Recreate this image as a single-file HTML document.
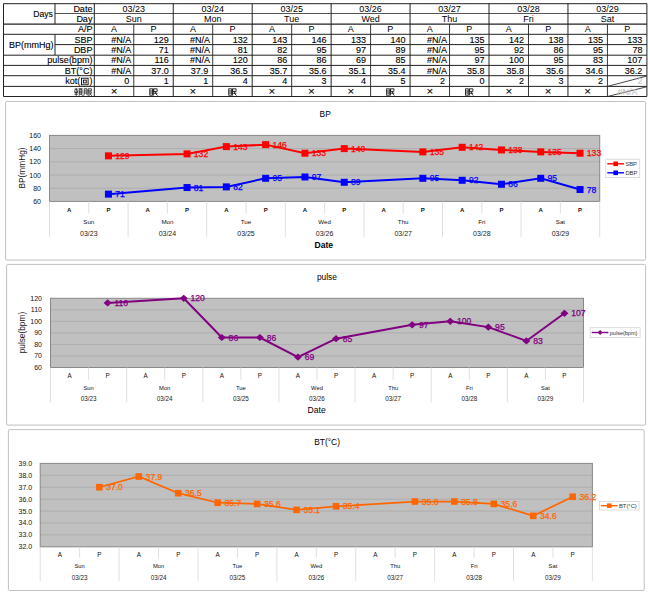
<!DOCTYPE html>
<html><head><meta charset="utf-8"><style>
html,body{margin:0;padding:0;background:#fff;width:650px;height:594px;overflow:hidden}
svg{display:block}
text{font-family:"Liberation Sans", sans-serif}
</style></head><body>
<svg width="650" height="594" viewBox="0 0 650 594">
<rect width="650" height="594" fill="#fff"/>

<line x1="3.50" y1="3.70" x2="646.90" y2="3.70" stroke="#222" stroke-width="1" />
<line x1="55.00" y1="13.50" x2="646.90" y2="13.50" stroke="#555" stroke-width="1.2" />
<line x1="3.50" y1="24.20" x2="646.90" y2="24.20" stroke="#222" stroke-width="1.2" />
<line x1="3.50" y1="34.30" x2="646.90" y2="34.30" stroke="#222" stroke-width="1" />
<line x1="55.00" y1="44.60" x2="94.30" y2="44.60" stroke="#222" stroke-width="1" />
<line x1="94.30" y1="44.60" x2="646.90" y2="44.60" stroke="#222" stroke-width="1" />
<line x1="3.50" y1="55.20" x2="646.90" y2="55.20" stroke="#222" stroke-width="1" />
<line x1="3.50" y1="65.40" x2="646.90" y2="65.40" stroke="#222" stroke-width="1" />
<line x1="3.50" y1="75.70" x2="646.90" y2="75.70" stroke="#222" stroke-width="1" />
<line x1="3.50" y1="86.40" x2="646.90" y2="86.40" stroke="#222" stroke-width="1" />
<line x1="3.50" y1="96.50" x2="646.90" y2="96.50" stroke="#222" stroke-width="1" />
<line x1="3.50" y1="3.50" x2="3.50" y2="96.40" stroke="#222" stroke-width="1" />
<line x1="55.00" y1="3.50" x2="55.00" y2="24.20" stroke="#222" stroke-width="1" />
<line x1="55.00" y1="34.30" x2="55.00" y2="55.00" stroke="#222" stroke-width="1" />
<line x1="94.30" y1="3.50" x2="94.30" y2="96.40" stroke="#222" stroke-width="1" />
<line x1="133.77" y1="24.20" x2="133.77" y2="96.40" stroke="#222" stroke-width="0.9" />
<line x1="173.24" y1="3.50" x2="173.24" y2="96.40" stroke="#222" stroke-width="1" />
<line x1="212.71" y1="24.20" x2="212.71" y2="96.40" stroke="#222" stroke-width="0.9" />
<line x1="252.19" y1="3.50" x2="252.19" y2="96.40" stroke="#222" stroke-width="1" />
<line x1="291.66" y1="24.20" x2="291.66" y2="96.40" stroke="#222" stroke-width="0.9" />
<line x1="331.13" y1="3.50" x2="331.13" y2="96.40" stroke="#222" stroke-width="1" />
<line x1="370.60" y1="24.20" x2="370.60" y2="96.40" stroke="#222" stroke-width="0.9" />
<line x1="410.07" y1="3.50" x2="410.07" y2="96.40" stroke="#222" stroke-width="1" />
<line x1="449.54" y1="24.20" x2="449.54" y2="96.40" stroke="#222" stroke-width="0.9" />
<line x1="489.01" y1="3.50" x2="489.01" y2="96.40" stroke="#222" stroke-width="1" />
<line x1="528.49" y1="24.20" x2="528.49" y2="96.40" stroke="#222" stroke-width="0.9" />
<line x1="567.96" y1="3.50" x2="567.96" y2="96.40" stroke="#222" stroke-width="1" />
<line x1="607.43" y1="24.20" x2="607.43" y2="96.40" stroke="#222" stroke-width="0.9" />
<line x1="646.90" y1="3.50" x2="646.90" y2="96.40" stroke="#222" stroke-width="1" />
<text x="52.80" y="17.30" font-size="8.6" text-anchor="end" fill="#000" font-weight="normal" stroke="#000" stroke-width="0.12">Days</text>
<text x="92.40" y="11.50" font-size="9" text-anchor="end" fill="#000" font-weight="normal" stroke="#000" stroke-width="0.12">Date</text>
<text x="92.40" y="22.20" font-size="9" text-anchor="end" fill="#000" font-weight="normal" stroke="#000" stroke-width="0.12">Day</text>
<text x="92.40" y="32.30" font-size="9" text-anchor="end" fill="#000" font-weight="normal" stroke="#000" stroke-width="0.12">A/P</text>
<text x="53.50" y="48.20" font-size="9" text-anchor="end" fill="#000" font-weight="normal" stroke="#000" stroke-width="0.12">BP(mmHg)</text>
<text x="92.40" y="42.60" font-size="9" text-anchor="end" fill="#000" font-weight="normal" stroke="#000" stroke-width="0.12">SBP</text>
<text x="92.40" y="53.20" font-size="9" text-anchor="end" fill="#000" font-weight="normal" stroke="#000" stroke-width="0.12">DBP</text>
<text x="92.40" y="63.40" font-size="9" text-anchor="end" fill="#000" font-weight="normal" stroke="#000" stroke-width="0.12">pulse(bpm)</text>
<text x="92.40" y="73.70" font-size="9" text-anchor="end" fill="#000" font-weight="normal" stroke="#000" stroke-width="0.12">BT(°C)</text>
<text x="80.20" y="84.40" font-size="9" text-anchor="end" fill="#000" font-weight="normal" stroke="#000" stroke-width="0.12">kot(</text>
<text x="92.60" y="84.40" font-size="9" text-anchor="end" fill="#000" font-weight="normal" stroke="#000" stroke-width="0.12">)</text>
<text x="133.77" y="11.50" font-size="9" text-anchor="middle" fill="#000" font-weight="normal" >03/23</text>
<text x="133.77" y="22.20" font-size="9" text-anchor="middle" fill="#000" font-weight="normal" >Sun</text>
<text x="114.04" y="32.30" font-size="9" text-anchor="middle" fill="#000" font-weight="normal" >A</text>
<text x="153.51" y="32.30" font-size="9" text-anchor="middle" fill="#000" font-weight="normal" >P</text>
<text x="212.71" y="11.50" font-size="9" text-anchor="middle" fill="#000" font-weight="normal" >03/24</text>
<text x="212.71" y="22.20" font-size="9" text-anchor="middle" fill="#000" font-weight="normal" >Mon</text>
<text x="192.98" y="32.30" font-size="9" text-anchor="middle" fill="#000" font-weight="normal" >A</text>
<text x="232.45" y="32.30" font-size="9" text-anchor="middle" fill="#000" font-weight="normal" >P</text>
<text x="291.66" y="11.50" font-size="9" text-anchor="middle" fill="#000" font-weight="normal" >03/25</text>
<text x="291.66" y="22.20" font-size="9" text-anchor="middle" fill="#000" font-weight="normal" >Tue</text>
<text x="271.92" y="32.30" font-size="9" text-anchor="middle" fill="#000" font-weight="normal" >A</text>
<text x="311.39" y="32.30" font-size="9" text-anchor="middle" fill="#000" font-weight="normal" >P</text>
<text x="370.60" y="11.50" font-size="9" text-anchor="middle" fill="#000" font-weight="normal" >03/26</text>
<text x="370.60" y="22.20" font-size="9" text-anchor="middle" fill="#000" font-weight="normal" >Wed</text>
<text x="350.86" y="32.30" font-size="9" text-anchor="middle" fill="#000" font-weight="normal" >A</text>
<text x="390.34" y="32.30" font-size="9" text-anchor="middle" fill="#000" font-weight="normal" >P</text>
<text x="449.54" y="11.50" font-size="9" text-anchor="middle" fill="#000" font-weight="normal" >03/27</text>
<text x="449.54" y="22.20" font-size="9" text-anchor="middle" fill="#000" font-weight="normal" >Thu</text>
<text x="429.81" y="32.30" font-size="9" text-anchor="middle" fill="#000" font-weight="normal" >A</text>
<text x="469.28" y="32.30" font-size="9" text-anchor="middle" fill="#000" font-weight="normal" >P</text>
<text x="528.49" y="11.50" font-size="9" text-anchor="middle" fill="#000" font-weight="normal" >03/28</text>
<text x="528.49" y="22.20" font-size="9" text-anchor="middle" fill="#000" font-weight="normal" >Fri</text>
<text x="508.75" y="32.30" font-size="9" text-anchor="middle" fill="#000" font-weight="normal" >A</text>
<text x="548.22" y="32.30" font-size="9" text-anchor="middle" fill="#000" font-weight="normal" >P</text>
<text x="607.43" y="11.50" font-size="9" text-anchor="middle" fill="#000" font-weight="normal" >03/29</text>
<text x="607.43" y="22.20" font-size="9" text-anchor="middle" fill="#000" font-weight="normal" >Sat</text>
<text x="587.69" y="32.30" font-size="9" text-anchor="middle" fill="#000" font-weight="normal" >A</text>
<text x="627.16" y="32.30" font-size="9" text-anchor="middle" fill="#000" font-weight="normal" >P</text>
<text x="131.17" y="42.60" font-size="9" text-anchor="end" fill="#000" font-weight="normal" stroke="#000" stroke-width="0.12">#N/A</text>
<text x="131.17" y="53.20" font-size="9" text-anchor="end" fill="#000" font-weight="normal" stroke="#000" stroke-width="0.12">#N/A</text>
<text x="131.17" y="63.40" font-size="9" text-anchor="end" fill="#000" font-weight="normal" stroke="#000" stroke-width="0.12">#N/A</text>
<text x="131.17" y="73.70" font-size="9" text-anchor="end" fill="#000" font-weight="normal" stroke="#000" stroke-width="0.12">#N/A</text>
<text x="129.27" y="84.40" font-size="9" text-anchor="end" fill="#000" font-weight="normal" stroke="#000" stroke-width="0.12">0</text>
<text x="114.04" y="95.10" font-size="11.5" text-anchor="middle" fill="#000" font-weight="normal" stroke="#000" stroke-width="0.12">×</text>
<text x="168.74" y="42.60" font-size="9" text-anchor="end" fill="#000" font-weight="normal" stroke="#000" stroke-width="0.12">129</text>
<text x="168.74" y="53.20" font-size="9" text-anchor="end" fill="#000" font-weight="normal" stroke="#000" stroke-width="0.12">71</text>
<text x="168.74" y="63.40" font-size="9" text-anchor="end" fill="#000" font-weight="normal" stroke="#000" stroke-width="0.12">116</text>
<text x="168.74" y="73.70" font-size="9" text-anchor="end" fill="#000" font-weight="normal" stroke="#000" stroke-width="0.12">37.0</text>
<text x="168.74" y="84.40" font-size="9" text-anchor="end" fill="#000" font-weight="normal" stroke="#000" stroke-width="0.12">1</text>
<g transform="translate(149.31,88.00)" fill="none" stroke="#111" stroke-width="0.85">
   <rect x="0.5" y="0.8" width="2.6" height="6.4"/>
   <line x1="0.5" y1="3" x2="3.1" y2="3"/><line x1="0.5" y1="5" x2="3.1" y2="5"/>
   <path d="M4.3,0.8 H7.8 V3.4 H4.3 Z M4.3,0.8 V7.6 M4.3,5.2 H8.2 M6,3.4 Q6.2,6.5 8.4,7.6"/>
 </g>
<text x="210.11" y="42.60" font-size="9" text-anchor="end" fill="#000" font-weight="normal" stroke="#000" stroke-width="0.12">#N/A</text>
<text x="210.11" y="53.20" font-size="9" text-anchor="end" fill="#000" font-weight="normal" stroke="#000" stroke-width="0.12">#N/A</text>
<text x="210.11" y="63.40" font-size="9" text-anchor="end" fill="#000" font-weight="normal" stroke="#000" stroke-width="0.12">#N/A</text>
<text x="208.21" y="73.70" font-size="9" text-anchor="end" fill="#000" font-weight="normal" stroke="#000" stroke-width="0.12">37.9</text>
<text x="208.21" y="84.40" font-size="9" text-anchor="end" fill="#000" font-weight="normal" stroke="#000" stroke-width="0.12">1</text>
<text x="192.98" y="95.10" font-size="11.5" text-anchor="middle" fill="#000" font-weight="normal" stroke="#000" stroke-width="0.12">×</text>
<text x="247.69" y="42.60" font-size="9" text-anchor="end" fill="#000" font-weight="normal" stroke="#000" stroke-width="0.12">132</text>
<text x="247.69" y="53.20" font-size="9" text-anchor="end" fill="#000" font-weight="normal" stroke="#000" stroke-width="0.12">81</text>
<text x="247.69" y="63.40" font-size="9" text-anchor="end" fill="#000" font-weight="normal" stroke="#000" stroke-width="0.12">120</text>
<text x="247.69" y="73.70" font-size="9" text-anchor="end" fill="#000" font-weight="normal" stroke="#000" stroke-width="0.12">36.5</text>
<text x="247.69" y="84.40" font-size="9" text-anchor="end" fill="#000" font-weight="normal" stroke="#000" stroke-width="0.12">4</text>
<g transform="translate(228.25,88.00)" fill="none" stroke="#111" stroke-width="0.85">
   <rect x="0.5" y="0.8" width="2.6" height="6.4"/>
   <line x1="0.5" y1="3" x2="3.1" y2="3"/><line x1="0.5" y1="5" x2="3.1" y2="5"/>
   <path d="M4.3,0.8 H7.8 V3.4 H4.3 Z M4.3,0.8 V7.6 M4.3,5.2 H8.2 M6,3.4 Q6.2,6.5 8.4,7.6"/>
 </g>
<text x="287.16" y="42.60" font-size="9" text-anchor="end" fill="#000" font-weight="normal" stroke="#000" stroke-width="0.12">143</text>
<text x="287.16" y="53.20" font-size="9" text-anchor="end" fill="#000" font-weight="normal" stroke="#000" stroke-width="0.12">82</text>
<text x="287.16" y="63.40" font-size="9" text-anchor="end" fill="#000" font-weight="normal" stroke="#000" stroke-width="0.12">86</text>
<text x="287.16" y="73.70" font-size="9" text-anchor="end" fill="#000" font-weight="normal" stroke="#000" stroke-width="0.12">35.7</text>
<text x="287.16" y="84.40" font-size="9" text-anchor="end" fill="#000" font-weight="normal" stroke="#000" stroke-width="0.12">4</text>
<text x="271.92" y="95.10" font-size="11.5" text-anchor="middle" fill="#000" font-weight="normal" stroke="#000" stroke-width="0.12">×</text>
<text x="326.63" y="42.60" font-size="9" text-anchor="end" fill="#000" font-weight="normal" stroke="#000" stroke-width="0.12">146</text>
<text x="326.63" y="53.20" font-size="9" text-anchor="end" fill="#000" font-weight="normal" stroke="#000" stroke-width="0.12">95</text>
<text x="326.63" y="63.40" font-size="9" text-anchor="end" fill="#000" font-weight="normal" stroke="#000" stroke-width="0.12">86</text>
<text x="326.63" y="73.70" font-size="9" text-anchor="end" fill="#000" font-weight="normal" stroke="#000" stroke-width="0.12">35.6</text>
<text x="326.63" y="84.40" font-size="9" text-anchor="end" fill="#000" font-weight="normal" stroke="#000" stroke-width="0.12">3</text>
<text x="311.39" y="95.10" font-size="11.5" text-anchor="middle" fill="#000" font-weight="normal" stroke="#000" stroke-width="0.12">×</text>
<text x="366.10" y="42.60" font-size="9" text-anchor="end" fill="#000" font-weight="normal" stroke="#000" stroke-width="0.12">133</text>
<text x="366.10" y="53.20" font-size="9" text-anchor="end" fill="#000" font-weight="normal" stroke="#000" stroke-width="0.12">97</text>
<text x="366.10" y="63.40" font-size="9" text-anchor="end" fill="#000" font-weight="normal" stroke="#000" stroke-width="0.12">69</text>
<text x="366.10" y="73.70" font-size="9" text-anchor="end" fill="#000" font-weight="normal" stroke="#000" stroke-width="0.12">35.1</text>
<text x="366.10" y="84.40" font-size="9" text-anchor="end" fill="#000" font-weight="normal" stroke="#000" stroke-width="0.12">4</text>
<text x="350.86" y="95.10" font-size="11.5" text-anchor="middle" fill="#000" font-weight="normal" stroke="#000" stroke-width="0.12">×</text>
<text x="405.57" y="42.60" font-size="9" text-anchor="end" fill="#000" font-weight="normal" stroke="#000" stroke-width="0.12">140</text>
<text x="405.57" y="53.20" font-size="9" text-anchor="end" fill="#000" font-weight="normal" stroke="#000" stroke-width="0.12">89</text>
<text x="405.57" y="63.40" font-size="9" text-anchor="end" fill="#000" font-weight="normal" stroke="#000" stroke-width="0.12">85</text>
<text x="405.57" y="73.70" font-size="9" text-anchor="end" fill="#000" font-weight="normal" stroke="#000" stroke-width="0.12">35.4</text>
<text x="405.57" y="84.40" font-size="9" text-anchor="end" fill="#000" font-weight="normal" stroke="#000" stroke-width="0.12">5</text>
<g transform="translate(386.14,88.00)" fill="none" stroke="#111" stroke-width="0.85">
   <rect x="0.5" y="0.8" width="2.6" height="6.4"/>
   <line x1="0.5" y1="3" x2="3.1" y2="3"/><line x1="0.5" y1="5" x2="3.1" y2="5"/>
   <path d="M4.3,0.8 H7.8 V3.4 H4.3 Z M4.3,0.8 V7.6 M4.3,5.2 H8.2 M6,3.4 Q6.2,6.5 8.4,7.6"/>
 </g>
<text x="446.94" y="42.60" font-size="9" text-anchor="end" fill="#000" font-weight="normal" stroke="#000" stroke-width="0.12">#N/A</text>
<text x="446.94" y="53.20" font-size="9" text-anchor="end" fill="#000" font-weight="normal" stroke="#000" stroke-width="0.12">#N/A</text>
<text x="446.94" y="63.40" font-size="9" text-anchor="end" fill="#000" font-weight="normal" stroke="#000" stroke-width="0.12">#N/A</text>
<text x="446.94" y="73.70" font-size="9" text-anchor="end" fill="#000" font-weight="normal" stroke="#000" stroke-width="0.12">#N/A</text>
<text x="445.04" y="84.40" font-size="9" text-anchor="end" fill="#000" font-weight="normal" stroke="#000" stroke-width="0.12">2</text>
<text x="429.81" y="95.10" font-size="11.5" text-anchor="middle" fill="#000" font-weight="normal" stroke="#000" stroke-width="0.12">×</text>
<text x="484.51" y="42.60" font-size="9" text-anchor="end" fill="#000" font-weight="normal" stroke="#000" stroke-width="0.12">135</text>
<text x="484.51" y="53.20" font-size="9" text-anchor="end" fill="#000" font-weight="normal" stroke="#000" stroke-width="0.12">95</text>
<text x="484.51" y="63.40" font-size="9" text-anchor="end" fill="#000" font-weight="normal" stroke="#000" stroke-width="0.12">97</text>
<text x="484.51" y="73.70" font-size="9" text-anchor="end" fill="#000" font-weight="normal" stroke="#000" stroke-width="0.12">35.8</text>
<text x="484.51" y="84.40" font-size="9" text-anchor="end" fill="#000" font-weight="normal" stroke="#000" stroke-width="0.12">0</text>
<g transform="translate(465.08,88.00)" fill="none" stroke="#111" stroke-width="0.85">
   <rect x="0.5" y="0.8" width="2.6" height="6.4"/>
   <line x1="0.5" y1="3" x2="3.1" y2="3"/><line x1="0.5" y1="5" x2="3.1" y2="5"/>
   <path d="M4.3,0.8 H7.8 V3.4 H4.3 Z M4.3,0.8 V7.6 M4.3,5.2 H8.2 M6,3.4 Q6.2,6.5 8.4,7.6"/>
 </g>
<text x="523.99" y="42.60" font-size="9" text-anchor="end" fill="#000" font-weight="normal" stroke="#000" stroke-width="0.12">142</text>
<text x="523.99" y="53.20" font-size="9" text-anchor="end" fill="#000" font-weight="normal" stroke="#000" stroke-width="0.12">92</text>
<text x="523.99" y="63.40" font-size="9" text-anchor="end" fill="#000" font-weight="normal" stroke="#000" stroke-width="0.12">100</text>
<text x="523.99" y="73.70" font-size="9" text-anchor="end" fill="#000" font-weight="normal" stroke="#000" stroke-width="0.12">35.8</text>
<text x="523.99" y="84.40" font-size="9" text-anchor="end" fill="#000" font-weight="normal" stroke="#000" stroke-width="0.12">2</text>
<text x="508.75" y="95.10" font-size="11.5" text-anchor="middle" fill="#000" font-weight="normal" stroke="#000" stroke-width="0.12">×</text>
<text x="563.46" y="42.60" font-size="9" text-anchor="end" fill="#000" font-weight="normal" stroke="#000" stroke-width="0.12">138</text>
<text x="563.46" y="53.20" font-size="9" text-anchor="end" fill="#000" font-weight="normal" stroke="#000" stroke-width="0.12">86</text>
<text x="563.46" y="63.40" font-size="9" text-anchor="end" fill="#000" font-weight="normal" stroke="#000" stroke-width="0.12">95</text>
<text x="563.46" y="73.70" font-size="9" text-anchor="end" fill="#000" font-weight="normal" stroke="#000" stroke-width="0.12">35.6</text>
<text x="563.46" y="84.40" font-size="9" text-anchor="end" fill="#000" font-weight="normal" stroke="#000" stroke-width="0.12">3</text>
<text x="548.22" y="95.10" font-size="11.5" text-anchor="middle" fill="#000" font-weight="normal" stroke="#000" stroke-width="0.12">×</text>
<text x="602.93" y="42.60" font-size="9" text-anchor="end" fill="#000" font-weight="normal" stroke="#000" stroke-width="0.12">135</text>
<text x="602.93" y="53.20" font-size="9" text-anchor="end" fill="#000" font-weight="normal" stroke="#000" stroke-width="0.12">95</text>
<text x="602.93" y="63.40" font-size="9" text-anchor="end" fill="#000" font-weight="normal" stroke="#000" stroke-width="0.12">83</text>
<text x="602.93" y="73.70" font-size="9" text-anchor="end" fill="#000" font-weight="normal" stroke="#000" stroke-width="0.12">34.6</text>
<text x="602.93" y="84.40" font-size="9" text-anchor="end" fill="#000" font-weight="normal" stroke="#000" stroke-width="0.12">2</text>
<text x="587.69" y="95.10" font-size="11.5" text-anchor="middle" fill="#000" font-weight="normal" stroke="#000" stroke-width="0.12">×</text>
<text x="642.40" y="42.60" font-size="9" text-anchor="end" fill="#000" font-weight="normal" stroke="#000" stroke-width="0.12">133</text>
<text x="642.40" y="53.20" font-size="9" text-anchor="end" fill="#000" font-weight="normal" stroke="#000" stroke-width="0.12">78</text>
<text x="642.40" y="63.40" font-size="9" text-anchor="end" fill="#000" font-weight="normal" stroke="#000" stroke-width="0.12">107</text>
<text x="642.40" y="73.70" font-size="9" text-anchor="end" fill="#000" font-weight="normal" stroke="#000" stroke-width="0.12">36.2</text>
<g transform="translate(81.0,77.70)" fill="none" stroke="#000" stroke-width="0.9">
   <rect x="0.5" y="0.5" width="6.6" height="6.6"/>
   <rect x="2.4" y="2.4" width="2.8" height="2.8"/>
 </g>
<g transform="translate(74.2,88.00)" fill="none" stroke="#111" stroke-width="0.8">
   <path d="M0.3,1.2 H3.6 M2,0.2 V7.8 M0.6,2.4 V4.6 H3.4 V2.4 M0.3,6.2 H3.6"/>
   <path d="M4.4,0.7 H8.4 M5,1.7 H7.8 V6.2 H5 Z M5,3.2 H7.8 M5,4.7 H7.8 M5.6,6.4 L4.6,7.8 M7.2,6.4 L8.4,7.8"/>
 </g>
<g transform="translate(83.6,88.00)" fill="none" stroke="#111" stroke-width="0.8">
   <path d="M0.6,0.8 H3.4 V7.2 M0.6,0.8 V5.5 Q0.6,7 0.1,7.8 M0.6,3 H3.4 M0.6,5 H3.4"/>
   <path d="M4.6,0.8 H7.8 V2.8 H4.6 M4.6,0.8 V7.8 M4.8,4 H8 Q7.4,6.2 5.2,7.6 M5.6,4.6 Q6.8,6.8 8.4,7.6"/>
 </g>
<line x1="607.43" y1="86.40" x2="646.40" y2="76.20" stroke="#333" stroke-width="0.9" />
<line x1="607.43" y1="96.50" x2="646.40" y2="86.90" stroke="#333" stroke-width="0.9" />
<text x="642.40" y="84.40" font-size="9" text-anchor="end" fill="#c4c4c4" font-weight="normal" stroke="#c4c4c4" stroke-width="0.12">2</text>
<text x="637.50" y="94.50" font-size="9" text-anchor="end" fill="#c4c4c4" font-weight="normal" stroke="#c4c4c4" stroke-width="0.12">#N/A</text>
<rect x="5.60" y="101.50" width="640.00" height="158.60" fill="#fff" stroke="#c0c0c0" stroke-width="1" rx="1.2"/>
<text x="325.20" y="117.30" font-size="8.4" text-anchor="middle" fill="#000" font-weight="normal" >BP</text>
<rect x="49.50" y="135.40" width="550.20" height="66.00" fill="#c0c0c0"/>
<text x="41.00" y="203.90" font-size="7" text-anchor="end" fill="#111" font-weight="normal" >60</text>
<line x1="49.50" y1="188.20" x2="599.70" y2="188.20" stroke="#acacac" stroke-width="0.9" />
<text x="41.00" y="190.70" font-size="7" text-anchor="end" fill="#111" font-weight="normal" >80</text>
<line x1="49.50" y1="175.00" x2="599.70" y2="175.00" stroke="#acacac" stroke-width="0.9" />
<text x="41.00" y="177.50" font-size="7" text-anchor="end" fill="#111" font-weight="normal" >100</text>
<line x1="49.50" y1="161.80" x2="599.70" y2="161.80" stroke="#acacac" stroke-width="0.9" />
<text x="41.00" y="164.30" font-size="7" text-anchor="end" fill="#111" font-weight="normal" >120</text>
<line x1="49.50" y1="148.60" x2="599.70" y2="148.60" stroke="#acacac" stroke-width="0.9" />
<text x="41.00" y="151.10" font-size="7" text-anchor="end" fill="#111" font-weight="normal" >140</text>
<text x="41.00" y="137.90" font-size="7" text-anchor="end" fill="#111" font-weight="normal" >160</text>
<rect x="49.50" y="135.40" width="550.20" height="66.00" fill="none" stroke="#888" stroke-width="1"/>
<line x1="49.50" y1="201.40" x2="49.50" y2="237.00" stroke="#dcdcdc" stroke-width="0.9" />
<line x1="88.80" y1="201.40" x2="88.80" y2="213.50" stroke="#dcdcdc" stroke-width="0.9" />
<line x1="128.10" y1="201.40" x2="128.10" y2="237.00" stroke="#dcdcdc" stroke-width="0.9" />
<line x1="167.40" y1="201.40" x2="167.40" y2="213.50" stroke="#dcdcdc" stroke-width="0.9" />
<line x1="206.70" y1="201.40" x2="206.70" y2="237.00" stroke="#dcdcdc" stroke-width="0.9" />
<line x1="246.00" y1="201.40" x2="246.00" y2="213.50" stroke="#dcdcdc" stroke-width="0.9" />
<line x1="285.30" y1="201.40" x2="285.30" y2="237.00" stroke="#dcdcdc" stroke-width="0.9" />
<line x1="324.60" y1="201.40" x2="324.60" y2="213.50" stroke="#dcdcdc" stroke-width="0.9" />
<line x1="363.90" y1="201.40" x2="363.90" y2="237.00" stroke="#dcdcdc" stroke-width="0.9" />
<line x1="403.20" y1="201.40" x2="403.20" y2="213.50" stroke="#dcdcdc" stroke-width="0.9" />
<line x1="442.50" y1="201.40" x2="442.50" y2="237.00" stroke="#dcdcdc" stroke-width="0.9" />
<line x1="481.80" y1="201.40" x2="481.80" y2="213.50" stroke="#dcdcdc" stroke-width="0.9" />
<line x1="521.10" y1="201.40" x2="521.10" y2="237.00" stroke="#dcdcdc" stroke-width="0.9" />
<line x1="560.40" y1="201.40" x2="560.40" y2="213.50" stroke="#dcdcdc" stroke-width="0.9" />
<line x1="599.70" y1="201.40" x2="599.70" y2="237.00" stroke="#dcdcdc" stroke-width="0.9" />
<text x="69.15" y="212.30" font-size="6" text-anchor="middle" fill="#111" font-weight="bold" >A</text>
<text x="108.45" y="212.30" font-size="6" text-anchor="middle" fill="#111" font-weight="bold" >P</text>
<text x="147.75" y="212.30" font-size="6" text-anchor="middle" fill="#111" font-weight="bold" >A</text>
<text x="187.05" y="212.30" font-size="6" text-anchor="middle" fill="#111" font-weight="bold" >P</text>
<text x="226.35" y="212.30" font-size="6" text-anchor="middle" fill="#111" font-weight="bold" >A</text>
<text x="265.65" y="212.30" font-size="6" text-anchor="middle" fill="#111" font-weight="bold" >P</text>
<text x="304.95" y="212.30" font-size="6" text-anchor="middle" fill="#111" font-weight="bold" >A</text>
<text x="344.25" y="212.30" font-size="6" text-anchor="middle" fill="#111" font-weight="bold" >P</text>
<text x="383.55" y="212.30" font-size="6" text-anchor="middle" fill="#111" font-weight="bold" >A</text>
<text x="422.85" y="212.30" font-size="6" text-anchor="middle" fill="#111" font-weight="bold" >P</text>
<text x="462.15" y="212.30" font-size="6" text-anchor="middle" fill="#111" font-weight="bold" >A</text>
<text x="501.45" y="212.30" font-size="6" text-anchor="middle" fill="#111" font-weight="bold" >P</text>
<text x="540.75" y="212.30" font-size="6" text-anchor="middle" fill="#111" font-weight="bold" >A</text>
<text x="580.05" y="212.30" font-size="6" text-anchor="middle" fill="#111" font-weight="bold" >P</text>
<text x="88.80" y="224.20" font-size="6.2" text-anchor="middle" fill="#111" font-weight="normal" >Sun</text>
<text x="88.80" y="235.70" font-size="7" text-anchor="middle" fill="#222" font-weight="normal" >03/23</text>
<text x="167.40" y="224.20" font-size="6.2" text-anchor="middle" fill="#111" font-weight="normal" >Mon</text>
<text x="167.40" y="235.70" font-size="7" text-anchor="middle" fill="#222" font-weight="normal" >03/24</text>
<text x="246.00" y="224.20" font-size="6.2" text-anchor="middle" fill="#111" font-weight="normal" >Tue</text>
<text x="246.00" y="235.70" font-size="7" text-anchor="middle" fill="#222" font-weight="normal" >03/25</text>
<text x="324.60" y="224.20" font-size="6.2" text-anchor="middle" fill="#111" font-weight="normal" >Wed</text>
<text x="324.60" y="235.70" font-size="7" text-anchor="middle" fill="#222" font-weight="normal" >03/26</text>
<text x="403.20" y="224.20" font-size="6.2" text-anchor="middle" fill="#111" font-weight="normal" >Thu</text>
<text x="403.20" y="235.70" font-size="7" text-anchor="middle" fill="#222" font-weight="normal" >03/27</text>
<text x="481.80" y="224.20" font-size="6.2" text-anchor="middle" fill="#111" font-weight="normal" >Fri</text>
<text x="481.80" y="235.70" font-size="7" text-anchor="middle" fill="#222" font-weight="normal" >03/28</text>
<text x="560.40" y="224.20" font-size="6.2" text-anchor="middle" fill="#111" font-weight="normal" >Sat</text>
<text x="560.40" y="235.70" font-size="7" text-anchor="middle" fill="#222" font-weight="normal" >03/29</text>
<text x="323.80" y="247.80" font-size="8.6" text-anchor="middle" fill="#000" font-weight="bold" >Date</text>
<text transform="translate(24.60,168.00) rotate(-90)" font-size="8.3" text-anchor="middle" fill="#111">BP(mmHg)</text>
<polyline points="108.45,155.86 187.05,153.88 226.35,146.62 265.65,144.64 304.95,153.22 344.25,148.60 422.85,151.90 462.15,147.28 501.45,149.92 540.75,151.90 580.05,153.22" fill="none" stroke="#ff0000" stroke-width="2"/>
<rect x="104.95" y="152.36" width="7" height="7" fill="#ff0000"/>
<text x="115.25" y="158.96" font-size="8.6" text-anchor="start" fill="#ff0000" font-weight="normal" stroke="#ff0000" stroke-width="0.25">129</text>
<rect x="183.55" y="150.38" width="7" height="7" fill="#ff0000"/>
<text x="193.85" y="156.98" font-size="8.6" text-anchor="start" fill="#ff0000" font-weight="normal" stroke="#ff0000" stroke-width="0.25">132</text>
<rect x="222.85" y="143.12" width="7" height="7" fill="#ff0000"/>
<text x="233.15" y="149.72" font-size="8.6" text-anchor="start" fill="#ff0000" font-weight="normal" stroke="#ff0000" stroke-width="0.25">143</text>
<rect x="262.15" y="141.14" width="7" height="7" fill="#ff0000"/>
<text x="272.45" y="147.74" font-size="8.6" text-anchor="start" fill="#ff0000" font-weight="normal" stroke="#ff0000" stroke-width="0.25">146</text>
<rect x="301.45" y="149.72" width="7" height="7" fill="#ff0000"/>
<text x="311.75" y="156.32" font-size="8.6" text-anchor="start" fill="#ff0000" font-weight="normal" stroke="#ff0000" stroke-width="0.25">133</text>
<rect x="340.75" y="145.10" width="7" height="7" fill="#ff0000"/>
<text x="351.05" y="151.70" font-size="8.6" text-anchor="start" fill="#ff0000" font-weight="normal" stroke="#ff0000" stroke-width="0.25">140</text>
<rect x="419.35" y="148.40" width="7" height="7" fill="#ff0000"/>
<text x="429.65" y="155.00" font-size="8.6" text-anchor="start" fill="#ff0000" font-weight="normal" stroke="#ff0000" stroke-width="0.25">135</text>
<rect x="458.65" y="143.78" width="7" height="7" fill="#ff0000"/>
<text x="468.95" y="150.38" font-size="8.6" text-anchor="start" fill="#ff0000" font-weight="normal" stroke="#ff0000" stroke-width="0.25">142</text>
<rect x="497.95" y="146.42" width="7" height="7" fill="#ff0000"/>
<text x="508.25" y="153.02" font-size="8.6" text-anchor="start" fill="#ff0000" font-weight="normal" stroke="#ff0000" stroke-width="0.25">138</text>
<rect x="537.25" y="148.40" width="7" height="7" fill="#ff0000"/>
<text x="547.55" y="155.00" font-size="8.6" text-anchor="start" fill="#ff0000" font-weight="normal" stroke="#ff0000" stroke-width="0.25">135</text>
<rect x="576.55" y="149.72" width="7" height="7" fill="#ff0000"/>
<text x="586.85" y="156.32" font-size="8.6" text-anchor="start" fill="#ff0000" font-weight="normal" stroke="#ff0000" stroke-width="0.25">133</text>
<polyline points="108.45,194.14 187.05,187.54 226.35,186.88 265.65,178.30 304.95,176.98 344.25,182.26 422.85,178.30 462.15,180.28 501.45,184.24 540.75,178.30 580.05,189.52" fill="none" stroke="#0000ff" stroke-width="2"/>
<rect x="104.95" y="190.64" width="7" height="7" fill="#0000ff"/>
<text x="115.25" y="197.24" font-size="8.6" text-anchor="start" fill="#0000ff" font-weight="normal" stroke="#0000ff" stroke-width="0.25">71</text>
<rect x="183.55" y="184.04" width="7" height="7" fill="#0000ff"/>
<text x="193.85" y="190.64" font-size="8.6" text-anchor="start" fill="#0000ff" font-weight="normal" stroke="#0000ff" stroke-width="0.25">81</text>
<rect x="222.85" y="183.38" width="7" height="7" fill="#0000ff"/>
<text x="233.15" y="189.98" font-size="8.6" text-anchor="start" fill="#0000ff" font-weight="normal" stroke="#0000ff" stroke-width="0.25">82</text>
<rect x="262.15" y="174.80" width="7" height="7" fill="#0000ff"/>
<text x="272.45" y="181.40" font-size="8.6" text-anchor="start" fill="#0000ff" font-weight="normal" stroke="#0000ff" stroke-width="0.25">95</text>
<rect x="301.45" y="173.48" width="7" height="7" fill="#0000ff"/>
<text x="311.75" y="180.08" font-size="8.6" text-anchor="start" fill="#0000ff" font-weight="normal" stroke="#0000ff" stroke-width="0.25">97</text>
<rect x="340.75" y="178.76" width="7" height="7" fill="#0000ff"/>
<text x="351.05" y="185.36" font-size="8.6" text-anchor="start" fill="#0000ff" font-weight="normal" stroke="#0000ff" stroke-width="0.25">89</text>
<rect x="419.35" y="174.80" width="7" height="7" fill="#0000ff"/>
<text x="429.65" y="181.40" font-size="8.6" text-anchor="start" fill="#0000ff" font-weight="normal" stroke="#0000ff" stroke-width="0.25">95</text>
<rect x="458.65" y="176.78" width="7" height="7" fill="#0000ff"/>
<text x="468.95" y="183.38" font-size="8.6" text-anchor="start" fill="#0000ff" font-weight="normal" stroke="#0000ff" stroke-width="0.25">92</text>
<rect x="497.95" y="180.74" width="7" height="7" fill="#0000ff"/>
<text x="508.25" y="187.34" font-size="8.6" text-anchor="start" fill="#0000ff" font-weight="normal" stroke="#0000ff" stroke-width="0.25">86</text>
<rect x="537.25" y="174.80" width="7" height="7" fill="#0000ff"/>
<text x="547.55" y="181.40" font-size="8.6" text-anchor="start" fill="#0000ff" font-weight="normal" stroke="#0000ff" stroke-width="0.25">95</text>
<rect x="576.55" y="186.02" width="7" height="7" fill="#0000ff"/>
<text x="586.85" y="192.62" font-size="8.6" text-anchor="start" fill="#0000ff" font-weight="normal" stroke="#0000ff" stroke-width="0.25">78</text>
<rect x="605.80" y="159.20" width="33.90" height="18.20" fill="#fff" stroke="#d4d4d4" stroke-width="0.8"/>
<line x1="607.30" y1="163.80" x2="624.00" y2="163.80" stroke="#ff0000" stroke-width="1.4" />
<rect x="613.40" y="161.50" width="4.6" height="4.6" fill="#ff0000"/>
<text x="625.40" y="166.00" font-size="5.8" text-anchor="start" fill="#333" font-weight="normal" >SBP</text>
<line x1="607.30" y1="172.80" x2="624.00" y2="172.80" stroke="#0000ff" stroke-width="1.4" />
<rect x="613.40" y="170.50" width="4.6" height="4.6" fill="#0000ff"/>
<text x="625.40" y="175.00" font-size="5.8" text-anchor="start" fill="#333" font-weight="normal" >DBP</text>
<rect x="6.60" y="264.40" width="639.00" height="160.70" fill="#fff" stroke="#c0c0c0" stroke-width="1" rx="1.2"/>
<text x="326.90" y="280.20" font-size="8.4" text-anchor="middle" fill="#000" font-weight="normal" >pulse</text>
<rect x="50.50" y="298.30" width="533.00" height="69.20" fill="#c0c0c0"/>
<text x="42.00" y="370.00" font-size="7" text-anchor="end" fill="#111" font-weight="normal" >60</text>
<line x1="50.50" y1="355.97" x2="583.50" y2="355.97" stroke="#acacac" stroke-width="0.9" />
<text x="42.00" y="358.47" font-size="7" text-anchor="end" fill="#111" font-weight="normal" >70</text>
<line x1="50.50" y1="344.43" x2="583.50" y2="344.43" stroke="#acacac" stroke-width="0.9" />
<text x="42.00" y="346.93" font-size="7" text-anchor="end" fill="#111" font-weight="normal" >80</text>
<line x1="50.50" y1="332.90" x2="583.50" y2="332.90" stroke="#acacac" stroke-width="0.9" />
<text x="42.00" y="335.40" font-size="7" text-anchor="end" fill="#111" font-weight="normal" >90</text>
<line x1="50.50" y1="321.37" x2="583.50" y2="321.37" stroke="#acacac" stroke-width="0.9" />
<text x="42.00" y="323.87" font-size="7" text-anchor="end" fill="#111" font-weight="normal" >100</text>
<line x1="50.50" y1="309.83" x2="583.50" y2="309.83" stroke="#acacac" stroke-width="0.9" />
<text x="42.00" y="312.33" font-size="7" text-anchor="end" fill="#111" font-weight="normal" >110</text>
<text x="42.00" y="300.80" font-size="7" text-anchor="end" fill="#111" font-weight="normal" >120</text>
<rect x="50.50" y="298.30" width="533.00" height="69.20" fill="none" stroke="#888" stroke-width="1"/>
<line x1="50.50" y1="367.50" x2="50.50" y2="402.30" stroke="#dcdcdc" stroke-width="0.9" />
<line x1="88.57" y1="367.50" x2="88.57" y2="379.80" stroke="#dcdcdc" stroke-width="0.9" />
<line x1="126.64" y1="367.50" x2="126.64" y2="402.30" stroke="#dcdcdc" stroke-width="0.9" />
<line x1="164.71" y1="367.50" x2="164.71" y2="379.80" stroke="#dcdcdc" stroke-width="0.9" />
<line x1="202.79" y1="367.50" x2="202.79" y2="402.30" stroke="#dcdcdc" stroke-width="0.9" />
<line x1="240.86" y1="367.50" x2="240.86" y2="379.80" stroke="#dcdcdc" stroke-width="0.9" />
<line x1="278.93" y1="367.50" x2="278.93" y2="402.30" stroke="#dcdcdc" stroke-width="0.9" />
<line x1="317.00" y1="367.50" x2="317.00" y2="379.80" stroke="#dcdcdc" stroke-width="0.9" />
<line x1="355.07" y1="367.50" x2="355.07" y2="402.30" stroke="#dcdcdc" stroke-width="0.9" />
<line x1="393.14" y1="367.50" x2="393.14" y2="379.80" stroke="#dcdcdc" stroke-width="0.9" />
<line x1="431.21" y1="367.50" x2="431.21" y2="402.30" stroke="#dcdcdc" stroke-width="0.9" />
<line x1="469.29" y1="367.50" x2="469.29" y2="379.80" stroke="#dcdcdc" stroke-width="0.9" />
<line x1="507.36" y1="367.50" x2="507.36" y2="402.30" stroke="#dcdcdc" stroke-width="0.9" />
<line x1="545.43" y1="367.50" x2="545.43" y2="379.80" stroke="#dcdcdc" stroke-width="0.9" />
<line x1="583.50" y1="367.50" x2="583.50" y2="402.30" stroke="#dcdcdc" stroke-width="0.9" />
<text x="69.54" y="378.00" font-size="6.3" text-anchor="middle" fill="#111" font-weight="normal" >A</text>
<text x="107.61" y="378.00" font-size="6.3" text-anchor="middle" fill="#111" font-weight="normal" >P</text>
<text x="145.68" y="378.00" font-size="6.3" text-anchor="middle" fill="#111" font-weight="normal" >A</text>
<text x="183.75" y="378.00" font-size="6.3" text-anchor="middle" fill="#111" font-weight="normal" >P</text>
<text x="221.82" y="378.00" font-size="6.3" text-anchor="middle" fill="#111" font-weight="normal" >A</text>
<text x="259.89" y="378.00" font-size="6.3" text-anchor="middle" fill="#111" font-weight="normal" >P</text>
<text x="297.96" y="378.00" font-size="6.3" text-anchor="middle" fill="#111" font-weight="normal" >A</text>
<text x="336.04" y="378.00" font-size="6.3" text-anchor="middle" fill="#111" font-weight="normal" >P</text>
<text x="374.11" y="378.00" font-size="6.3" text-anchor="middle" fill="#111" font-weight="normal" >A</text>
<text x="412.18" y="378.00" font-size="6.3" text-anchor="middle" fill="#111" font-weight="normal" >P</text>
<text x="450.25" y="378.00" font-size="6.3" text-anchor="middle" fill="#111" font-weight="normal" >A</text>
<text x="488.32" y="378.00" font-size="6.3" text-anchor="middle" fill="#111" font-weight="normal" >P</text>
<text x="526.39" y="378.00" font-size="6.3" text-anchor="middle" fill="#111" font-weight="normal" >A</text>
<text x="564.46" y="378.00" font-size="6.3" text-anchor="middle" fill="#111" font-weight="normal" >P</text>
<text x="88.57" y="390.20" font-size="5.8" text-anchor="middle" fill="#111" font-weight="normal" >Sun</text>
<text x="88.57" y="401.00" font-size="6.3" text-anchor="middle" fill="#222" font-weight="normal" >03/23</text>
<text x="164.71" y="390.20" font-size="5.8" text-anchor="middle" fill="#111" font-weight="normal" >Mon</text>
<text x="164.71" y="401.00" font-size="6.3" text-anchor="middle" fill="#222" font-weight="normal" >03/24</text>
<text x="240.86" y="390.20" font-size="5.8" text-anchor="middle" fill="#111" font-weight="normal" >Tue</text>
<text x="240.86" y="401.00" font-size="6.3" text-anchor="middle" fill="#222" font-weight="normal" >03/25</text>
<text x="317.00" y="390.20" font-size="5.8" text-anchor="middle" fill="#111" font-weight="normal" >Wed</text>
<text x="317.00" y="401.00" font-size="6.3" text-anchor="middle" fill="#222" font-weight="normal" >03/26</text>
<text x="393.14" y="390.20" font-size="5.8" text-anchor="middle" fill="#111" font-weight="normal" >Thu</text>
<text x="393.14" y="401.00" font-size="6.3" text-anchor="middle" fill="#222" font-weight="normal" >03/27</text>
<text x="469.29" y="390.20" font-size="5.8" text-anchor="middle" fill="#111" font-weight="normal" >Fri</text>
<text x="469.29" y="401.00" font-size="6.3" text-anchor="middle" fill="#222" font-weight="normal" >03/28</text>
<text x="545.43" y="390.20" font-size="5.8" text-anchor="middle" fill="#111" font-weight="normal" >Sat</text>
<text x="545.43" y="401.00" font-size="6.3" text-anchor="middle" fill="#222" font-weight="normal" >03/29</text>
<text x="316.60" y="412.80" font-size="8.6" text-anchor="middle" fill="#000" font-weight="normal" >Date</text>
<text transform="translate(25.40,332.60) rotate(-90)" font-size="8.3" text-anchor="middle" fill="#111">pulse(bpm)</text>
<polyline points="107.61,302.91 183.75,298.30 221.82,337.51 259.89,337.51 297.96,357.12 336.04,338.67 412.18,324.83 450.25,321.37 488.32,327.13 526.39,340.97 564.46,313.29" fill="none" stroke="#800080" stroke-width="2"/>
<path d="M107.61,299.31 L111.61,302.91 L107.61,306.51 L103.61,302.91 Z" fill="#800080"/>
<text x="114.41" y="306.01" font-size="8.6" text-anchor="start" fill="#800080" font-weight="normal" stroke="#800080" stroke-width="0.25">116</text>
<path d="M183.75,294.70 L187.75,298.30 L183.75,301.90 L179.75,298.30 Z" fill="#800080"/>
<text x="190.55" y="301.40" font-size="8.6" text-anchor="start" fill="#800080" font-weight="normal" stroke="#800080" stroke-width="0.25">120</text>
<path d="M221.82,333.91 L225.82,337.51 L221.82,341.11 L217.82,337.51 Z" fill="#800080"/>
<text x="228.62" y="340.61" font-size="8.6" text-anchor="start" fill="#800080" font-weight="normal" stroke="#800080" stroke-width="0.25">86</text>
<path d="M259.89,333.91 L263.89,337.51 L259.89,341.11 L255.89,337.51 Z" fill="#800080"/>
<text x="266.69" y="340.61" font-size="8.6" text-anchor="start" fill="#800080" font-weight="normal" stroke="#800080" stroke-width="0.25">86</text>
<path d="M297.96,353.52 L301.96,357.12 L297.96,360.72 L293.96,357.12 Z" fill="#800080"/>
<text x="304.76" y="360.22" font-size="8.6" text-anchor="start" fill="#800080" font-weight="normal" stroke="#800080" stroke-width="0.25">69</text>
<path d="M336.04,335.07 L340.04,338.67 L336.04,342.27 L332.04,338.67 Z" fill="#800080"/>
<text x="342.84" y="341.77" font-size="8.6" text-anchor="start" fill="#800080" font-weight="normal" stroke="#800080" stroke-width="0.25">85</text>
<path d="M412.18,321.23 L416.18,324.83 L412.18,328.43 L408.18,324.83 Z" fill="#800080"/>
<text x="418.98" y="327.93" font-size="8.6" text-anchor="start" fill="#800080" font-weight="normal" stroke="#800080" stroke-width="0.25">97</text>
<path d="M450.25,317.77 L454.25,321.37 L450.25,324.97 L446.25,321.37 Z" fill="#800080"/>
<text x="457.05" y="324.47" font-size="8.6" text-anchor="start" fill="#800080" font-weight="normal" stroke="#800080" stroke-width="0.25">100</text>
<path d="M488.32,323.53 L492.32,327.13 L488.32,330.73 L484.32,327.13 Z" fill="#800080"/>
<text x="495.12" y="330.23" font-size="8.6" text-anchor="start" fill="#800080" font-weight="normal" stroke="#800080" stroke-width="0.25">95</text>
<path d="M526.39,337.37 L530.39,340.97 L526.39,344.57 L522.39,340.97 Z" fill="#800080"/>
<text x="533.19" y="344.07" font-size="8.6" text-anchor="start" fill="#800080" font-weight="normal" stroke="#800080" stroke-width="0.25">83</text>
<path d="M564.46,309.69 L568.46,313.29 L564.46,316.89 L560.46,313.29 Z" fill="#800080"/>
<text x="571.26" y="316.39" font-size="8.6" text-anchor="start" fill="#800080" font-weight="normal" stroke="#800080" stroke-width="0.25">107</text>
<rect x="590.20" y="327.70" width="49.90" height="9.70" fill="#fff" stroke="#d4d4d4" stroke-width="0.8"/>
<line x1="591.70" y1="332.50" x2="608.40" y2="332.50" stroke="#800080" stroke-width="1.4" />
<path d="M600.10,330.00 L602.60,332.50 L600.10,335.00 L597.60,332.50 Z" fill="#800080"/>
<text x="609.80" y="334.70" font-size="5.5" text-anchor="start" fill="#333" font-weight="normal" >pulse(bpm)</text>
<rect x="8.40" y="429.60" width="635.80" height="160.90" fill="#fff" stroke="#c0c0c0" stroke-width="1" rx="1.2"/>
<text x="327.10" y="445.40" font-size="8.4" text-anchor="middle" fill="#000" font-weight="normal" >BT(°C)</text>
<rect x="40.20" y="463.40" width="552.20" height="83.40" fill="#c0c0c0"/>
<text x="32.20" y="549.30" font-size="7" text-anchor="end" fill="#111" font-weight="normal" >32.0</text>
<line x1="40.20" y1="534.89" x2="592.40" y2="534.89" stroke="#acacac" stroke-width="0.9" />
<text x="32.20" y="537.39" font-size="7" text-anchor="end" fill="#111" font-weight="normal" >33.0</text>
<line x1="40.20" y1="522.97" x2="592.40" y2="522.97" stroke="#acacac" stroke-width="0.9" />
<text x="32.20" y="525.47" font-size="7" text-anchor="end" fill="#111" font-weight="normal" >34.0</text>
<line x1="40.20" y1="511.06" x2="592.40" y2="511.06" stroke="#acacac" stroke-width="0.9" />
<text x="32.20" y="513.56" font-size="7" text-anchor="end" fill="#111" font-weight="normal" >35.0</text>
<line x1="40.20" y1="499.14" x2="592.40" y2="499.14" stroke="#acacac" stroke-width="0.9" />
<text x="32.20" y="501.64" font-size="7" text-anchor="end" fill="#111" font-weight="normal" >36.0</text>
<line x1="40.20" y1="487.23" x2="592.40" y2="487.23" stroke="#acacac" stroke-width="0.9" />
<text x="32.20" y="489.73" font-size="7" text-anchor="end" fill="#111" font-weight="normal" >37.0</text>
<line x1="40.20" y1="475.31" x2="592.40" y2="475.31" stroke="#acacac" stroke-width="0.9" />
<text x="32.20" y="477.81" font-size="7" text-anchor="end" fill="#111" font-weight="normal" >38.0</text>
<text x="32.20" y="465.90" font-size="7" text-anchor="end" fill="#111" font-weight="normal" >39.0</text>
<rect x="40.20" y="463.40" width="552.20" height="83.40" fill="none" stroke="#888" stroke-width="1"/>
<line x1="40.20" y1="546.80" x2="40.20" y2="581.00" stroke="#dcdcdc" stroke-width="0.9" />
<line x1="79.64" y1="546.80" x2="79.64" y2="557.80" stroke="#dcdcdc" stroke-width="0.9" />
<line x1="119.09" y1="546.80" x2="119.09" y2="581.00" stroke="#dcdcdc" stroke-width="0.9" />
<line x1="158.53" y1="546.80" x2="158.53" y2="557.80" stroke="#dcdcdc" stroke-width="0.9" />
<line x1="197.97" y1="546.80" x2="197.97" y2="581.00" stroke="#dcdcdc" stroke-width="0.9" />
<line x1="237.41" y1="546.80" x2="237.41" y2="557.80" stroke="#dcdcdc" stroke-width="0.9" />
<line x1="276.86" y1="546.80" x2="276.86" y2="581.00" stroke="#dcdcdc" stroke-width="0.9" />
<line x1="316.30" y1="546.80" x2="316.30" y2="557.80" stroke="#dcdcdc" stroke-width="0.9" />
<line x1="355.74" y1="546.80" x2="355.74" y2="581.00" stroke="#dcdcdc" stroke-width="0.9" />
<line x1="395.19" y1="546.80" x2="395.19" y2="557.80" stroke="#dcdcdc" stroke-width="0.9" />
<line x1="434.63" y1="546.80" x2="434.63" y2="581.00" stroke="#dcdcdc" stroke-width="0.9" />
<line x1="474.07" y1="546.80" x2="474.07" y2="557.80" stroke="#dcdcdc" stroke-width="0.9" />
<line x1="513.51" y1="546.80" x2="513.51" y2="581.00" stroke="#dcdcdc" stroke-width="0.9" />
<line x1="552.96" y1="546.80" x2="552.96" y2="557.80" stroke="#dcdcdc" stroke-width="0.9" />
<line x1="592.40" y1="546.80" x2="592.40" y2="581.00" stroke="#dcdcdc" stroke-width="0.9" />
<text x="59.92" y="557.00" font-size="6.3" text-anchor="middle" fill="#111" font-weight="normal" >A</text>
<text x="99.36" y="557.00" font-size="6.3" text-anchor="middle" fill="#111" font-weight="normal" >P</text>
<text x="138.81" y="557.00" font-size="6.3" text-anchor="middle" fill="#111" font-weight="normal" >A</text>
<text x="178.25" y="557.00" font-size="6.3" text-anchor="middle" fill="#111" font-weight="normal" >P</text>
<text x="217.69" y="557.00" font-size="6.3" text-anchor="middle" fill="#111" font-weight="normal" >A</text>
<text x="257.14" y="557.00" font-size="6.3" text-anchor="middle" fill="#111" font-weight="normal" >P</text>
<text x="296.58" y="557.00" font-size="6.3" text-anchor="middle" fill="#111" font-weight="normal" >A</text>
<text x="336.02" y="557.00" font-size="6.3" text-anchor="middle" fill="#111" font-weight="normal" >P</text>
<text x="375.46" y="557.00" font-size="6.3" text-anchor="middle" fill="#111" font-weight="normal" >A</text>
<text x="414.91" y="557.00" font-size="6.3" text-anchor="middle" fill="#111" font-weight="normal" >P</text>
<text x="454.35" y="557.00" font-size="6.3" text-anchor="middle" fill="#111" font-weight="normal" >A</text>
<text x="493.79" y="557.00" font-size="6.3" text-anchor="middle" fill="#111" font-weight="normal" >P</text>
<text x="533.24" y="557.00" font-size="6.3" text-anchor="middle" fill="#111" font-weight="normal" >A</text>
<text x="572.68" y="557.00" font-size="6.3" text-anchor="middle" fill="#111" font-weight="normal" >P</text>
<text x="79.64" y="568.40" font-size="5.8" text-anchor="middle" fill="#111" font-weight="normal" >Sun</text>
<text x="79.64" y="579.80" font-size="6.3" text-anchor="middle" fill="#222" font-weight="normal" >03/23</text>
<text x="158.53" y="568.40" font-size="5.8" text-anchor="middle" fill="#111" font-weight="normal" >Mon</text>
<text x="158.53" y="579.80" font-size="6.3" text-anchor="middle" fill="#222" font-weight="normal" >03/24</text>
<text x="237.41" y="568.40" font-size="5.8" text-anchor="middle" fill="#111" font-weight="normal" >Tue</text>
<text x="237.41" y="579.80" font-size="6.3" text-anchor="middle" fill="#222" font-weight="normal" >03/25</text>
<text x="316.30" y="568.40" font-size="5.8" text-anchor="middle" fill="#111" font-weight="normal" >Wed</text>
<text x="316.30" y="579.80" font-size="6.3" text-anchor="middle" fill="#222" font-weight="normal" >03/26</text>
<text x="395.19" y="568.40" font-size="5.8" text-anchor="middle" fill="#111" font-weight="normal" >Thu</text>
<text x="395.19" y="579.80" font-size="6.3" text-anchor="middle" fill="#222" font-weight="normal" >03/27</text>
<text x="474.07" y="568.40" font-size="5.8" text-anchor="middle" fill="#111" font-weight="normal" >Fri</text>
<text x="474.07" y="579.80" font-size="6.3" text-anchor="middle" fill="#222" font-weight="normal" >03/28</text>
<text x="552.96" y="568.40" font-size="5.8" text-anchor="middle" fill="#111" font-weight="normal" >Sat</text>
<text x="552.96" y="579.80" font-size="6.3" text-anchor="middle" fill="#222" font-weight="normal" >03/29</text>
<text transform="translate(0.00,0.00) rotate(-90)" font-size="8.3" text-anchor="middle" fill="#111"></text>
<polyline points="99.36,487.23 138.81,476.51 178.25,493.19 217.69,502.72 257.14,503.91 296.58,509.87 336.02,506.29 414.91,501.53 454.35,501.53 493.79,503.91 533.24,515.82 572.68,496.76" fill="none" stroke="#ff6600" stroke-width="1.7"/>
<rect x="96.06" y="483.93" width="6.6" height="6.6" fill="#ff6600"/>
<text x="106.16" y="490.33" font-size="8.6" text-anchor="start" fill="#ff6600" font-weight="normal" stroke="#ff6600" stroke-width="0.25">37.0</text>
<rect x="135.51" y="473.21" width="6.6" height="6.6" fill="#ff6600"/>
<text x="145.61" y="479.61" font-size="8.6" text-anchor="start" fill="#ff6600" font-weight="normal" stroke="#ff6600" stroke-width="0.25">37.9</text>
<rect x="174.95" y="489.89" width="6.6" height="6.6" fill="#ff6600"/>
<text x="185.05" y="496.29" font-size="8.6" text-anchor="start" fill="#ff6600" font-weight="normal" stroke="#ff6600" stroke-width="0.25">36.5</text>
<rect x="214.39" y="499.42" width="6.6" height="6.6" fill="#ff6600"/>
<text x="224.49" y="505.82" font-size="8.6" text-anchor="start" fill="#ff6600" font-weight="normal" stroke="#ff6600" stroke-width="0.25">35.7</text>
<rect x="253.84" y="500.61" width="6.6" height="6.6" fill="#ff6600"/>
<text x="263.94" y="507.01" font-size="8.6" text-anchor="start" fill="#ff6600" font-weight="normal" stroke="#ff6600" stroke-width="0.25">35.6</text>
<rect x="293.28" y="506.57" width="6.6" height="6.6" fill="#ff6600"/>
<text x="303.38" y="512.97" font-size="8.6" text-anchor="start" fill="#ff6600" font-weight="normal" stroke="#ff6600" stroke-width="0.25">35.1</text>
<rect x="332.72" y="502.99" width="6.6" height="6.6" fill="#ff6600"/>
<text x="342.82" y="509.39" font-size="8.6" text-anchor="start" fill="#ff6600" font-weight="normal" stroke="#ff6600" stroke-width="0.25">35.4</text>
<rect x="411.61" y="498.23" width="6.6" height="6.6" fill="#ff6600"/>
<text x="421.71" y="504.63" font-size="8.6" text-anchor="start" fill="#ff6600" font-weight="normal" stroke="#ff6600" stroke-width="0.25">35.8</text>
<rect x="451.05" y="498.23" width="6.6" height="6.6" fill="#ff6600"/>
<text x="461.15" y="504.63" font-size="8.6" text-anchor="start" fill="#ff6600" font-weight="normal" stroke="#ff6600" stroke-width="0.25">35.8</text>
<rect x="490.49" y="500.61" width="6.6" height="6.6" fill="#ff6600"/>
<text x="500.59" y="507.01" font-size="8.6" text-anchor="start" fill="#ff6600" font-weight="normal" stroke="#ff6600" stroke-width="0.25">35.6</text>
<rect x="529.94" y="512.52" width="6.6" height="6.6" fill="#ff6600"/>
<text x="540.04" y="518.92" font-size="8.6" text-anchor="start" fill="#ff6600" font-weight="normal" stroke="#ff6600" stroke-width="0.25">34.6</text>
<rect x="569.38" y="493.46" width="6.6" height="6.6" fill="#ff6600"/>
<text x="579.48" y="499.86" font-size="8.6" text-anchor="start" fill="#ff6600" font-weight="normal" stroke="#ff6600" stroke-width="0.25">36.2</text>
<rect x="599.40" y="501.40" width="39.60" height="8.60" fill="#fff" stroke="#d4d4d4" stroke-width="0.8"/>
<line x1="600.90" y1="505.70" x2="617.60" y2="505.70" stroke="#ff6600" stroke-width="1.4" />
<rect x="607.00" y="503.40" width="4.6" height="4.6" fill="#ff6600"/>
<text x="619.00" y="507.90" font-size="5.8" text-anchor="start" fill="#333" font-weight="normal" >BT(°C)</text>
</svg>
</body></html>
